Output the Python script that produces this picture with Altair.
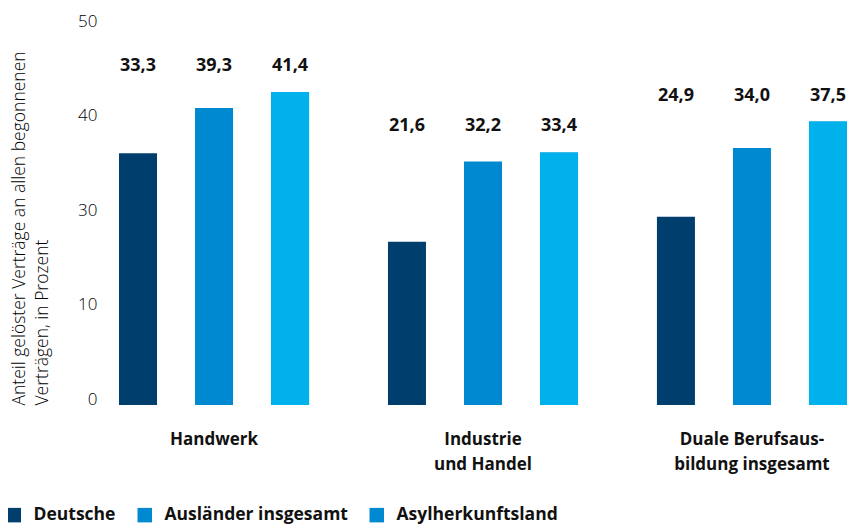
import altair as alt
import pandas as pd

categories = ["Handwerk", "Industrie|und Handel", "Duale Berufsaus-|bildung insgesamt"]
series = ["Deutsche", "Ausländer insgesamt", "Asylherkunftsland"]
deutsche = [33.3, 21.6, 24.9]
auslaender = [39.3, 32.2, 34.0]
asyl = [41.4, 33.4, 37.5]

# legend swatches as printed (third swatch shows the mid blue)
legend_colors = ["#003f6d", "#0089d0", "#0089d0"]
asyl_bar_color = "#00b1eb"

tick_pos = [0, 12.5, 25, 37.5, 50]
tick_lab = ["0", "10", "30", "40", "50"]

rows = []
for vals, s in zip([deutsche, auslaender, asyl], series):
    for c, v in zip(categories, vals):
        rows.append({"Kategorie": c, "Serie": s, "Wert": v})
df = pd.DataFrame(rows)

FONT = "Open Sans"
label_expr = "".join(f"datum.value == {p} ? '{l}' : " for p, l in zip(tick_pos, tick_lab)) + "''"

x = alt.X("Kategorie:N", sort=categories,
          scale=alt.Scale(paddingInner=0.152, paddingOuter=0),
          axis=alt.Axis(title=None, labelAngle=0, domain=False, ticks=False,
                        labelExpr="split(datum.label, '|')",
                        labelFont=FONT, labelFontSize=17, labelFontWeight="bold",
                        labelColor="#111", labelLineHeight=25, labelPadding=26))
xo = alt.XOffset("Serie:N", sort=series,
                 scale=alt.Scale(paddingInner=0.5, paddingOuter=0.25))
y = alt.Y("Wert:Q", scale=alt.Scale(domain=[0, 50], nice=False),
          axis=alt.Axis(values=tick_pos, labelExpr=label_expr, grid=False,
                        domain=False, ticks=False, labelPadding=3,
                        labelOffset=-6,
                        labelFont=FONT, labelFontSize=17, labelFontWeight=300,
                        labelColor="#000",
                        title=["Anteil gelöster Verträge an allen begonnenen",
                               "Verträgen, in Prozent"],
                        titleFont=FONT, titleFontSize=17.5, titleFontWeight=300,
                        titleColor="#000", titleLineHeight=23,
                        titleAngle=-90, titleAlign="left", titleBaseline="bottom",
                        titleX=-72, titleY=378))

base = alt.Chart(df)

bars = base.mark_bar().encode(
    x=x, xOffset=xo, y=y,
    color=alt.Color("Serie:N", sort=series,
                    scale=alt.Scale(domain=series, range=legend_colors),
                    legend=alt.Legend(title=None, orient="none", direction="horizontal",
                                      legendX=-95, legendY=479,
                                      symbolType="square", symbolSize=210,
                                      symbolStrokeWidth=0,
                                      labelFont=FONT, labelFontSize=17.5,
                                      labelFontWeight="bold", labelColor="#111",
                                      labelOffset=11, columnPadding=20,
                                      labelLimit=400)),
)

asyl_bars = base.transform_filter(
    alt.datum.Serie == series[2]
).mark_bar(color=asyl_bar_color).encode(x=x, xOffset=xo, y=y)

labels = base.transform_joinaggregate(
    gmax="max(Wert)", groupby=["Kategorie"]
).transform_calculate(
    txt="replace(format(datum.Wert, '.1f'), '.', ',')"
).mark_text(font=FONT, fontSize=18, fontWeight="bold", color="#111",
            baseline="middle", dy=-26).encode(
    x=x, xOffset=xo, y=alt.Y("gmax:Q"), text="txt:N"
)

chart = alt.layer(bars, asyl_bars, labels).properties(
    width=766, height=378,
    autosize=alt.AutoSizeParams(type="none"),
    padding={"left": 92, "top": 19, "right": -19, "bottom": 119},
).configure_view(stroke=None)

chart.save("out.html", embed_options={"renderer": "svg", "actions": False})
